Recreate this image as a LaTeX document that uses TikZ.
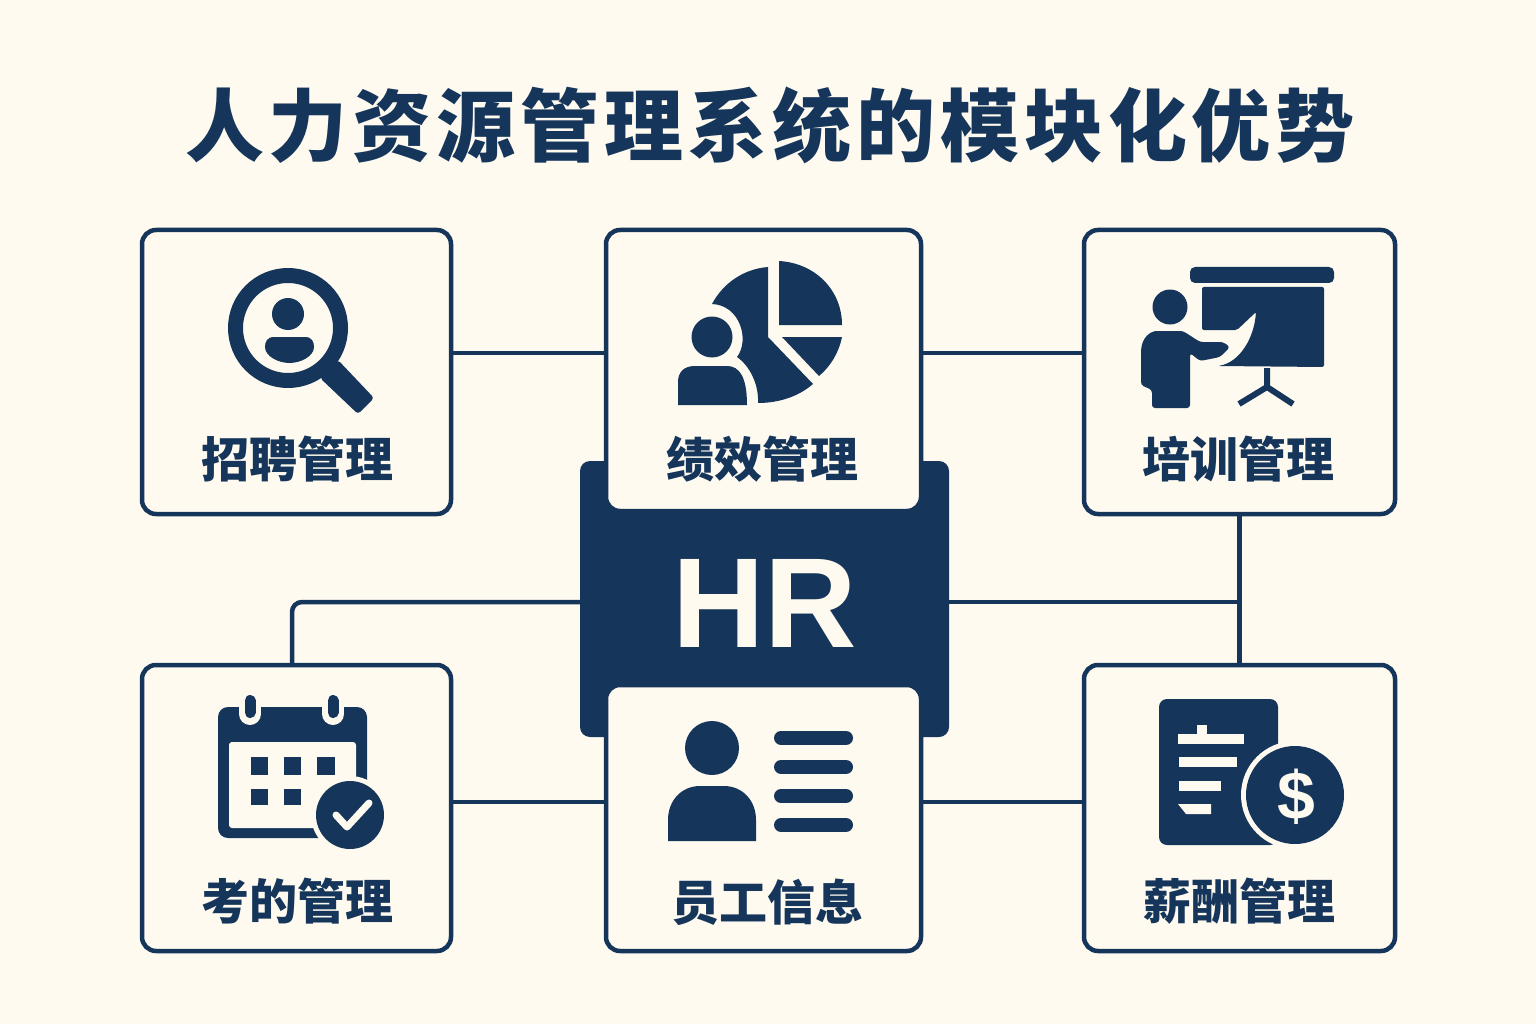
\documentclass[tikz,border=0pt]{standalone}
\usepackage{fontspec}
\setmainfont{Liberation Sans}
\newfontfamily\cjk{Noto Sans CJK SC}
\newfontfamily\cjkwide[LetterSpace=6.2]{Noto Sans CJK SC}
\usetikzlibrary{calc}
\definecolor{navy}{HTML}{15355A}
\definecolor{cream}{HTML}{FEFAF0}
\tikzset{
	cardbox/.style={draw=navy,line width=4.5pt,fill=cream,rounded corners=14pt,inner sep=0pt,outer sep=0pt},
	cardlabel/.style={text=navy,inner sep=0pt,font=\cjk\bfseries\fontsize{48}{52}\selectfont},
	link/.style={draw=navy,line width=4.5pt},
	glyph/.style={fill=navy},
	halo/.style={fill=cream},
	bar/.style={draw=navy,line width=14pt,line cap=round}
}

\begin{document}
\begin{tikzpicture}[x=1pt,y=-1pt]
		\fill[cream] (0,0) rectangle (1536,1024);
		\useasboundingbox (0,0) rectangle (1536,1024);
		\node[text=navy,font=\cjkwide\bfseries\fontsize{79}{84}\selectfont] (title) at (770,125) {人力资源管理系统的模块化优势};
		\node[fill=navy,rounded corners=10pt,minimum width=369pt,minimum height=276pt,inner sep=0pt,outer sep=0pt] (hub) at (764.5,599) {};
		\node[text=cream,inner sep=0pt,font=\bfseries\fontsize{128}{130}\selectfont] (hubname) at (765,603) {HR};
		\node[cardbox,minimum width=309pt,minimum height=284pt] (recruit) at (296.5,372) {};
		\node[cardbox,minimum width=315pt,minimum height=281pt] (perform) at (763.5,370.5) {};
		\node[cardbox,minimum width=311pt,minimum height=284pt] (training) at (1239.5,372) {};
		\node[cardbox,minimum width=309pt,minimum height=286pt] (attend) at (296.5,808) {};
		\node[cardbox,minimum width=315pt,minimum height=266pt] (staff) at (763.5,818) {};
		\node[cardbox,minimum width=311pt,minimum height=286pt] (salary) at (1239.5,808) {};

		\coordinate (hubleft) at ([yshift=-3pt]hub.west);
		\coordinate (hubright) at ([yshift=-3pt]hub.east);
		\coordinate (attendtop) at ([xshift=-4.5pt]attend.north);
		\draw[link] ([yshift=19pt]recruit.east) -- ([yshift=17.5pt]perform.west);
		\draw[link] ([yshift=17.5pt]perform.east) -- ([yshift=19pt]training.west);
		\draw[link,rounded corners=10pt] (hubleft) -| (attendtop);
		\draw[link] (hubright) -- (hubright -| training.south);
		\draw[link] (training.south) -- (salary.north);
		\draw[link] ([yshift=6pt]attend.east) -- ([yshift=16pt]staff.west);
		\draw[link] ([yshift=16pt]staff.east) -- ([yshift=6pt]salary.west);

		\draw[navy,line width=15pt] (288,328) circle[radius=52.5pt];
		\fill[glyph,rounded corners=3pt] (338,360) -- (374,398) -- (358,414) -- (320,378) -- cycle;
		\fill[glyph] (288,314) circle[radius=16pt];
		\fill[glyph] (274,337) -- (305,337) .. controls (312,337) and (314,342) .. (314,347) .. controls (314,356) and (301,363) .. (289.5,363) .. controls (278,363) and (265,356) .. (265,347) .. controls (265,342) and (267,337) .. (274,337) -- cycle;

		\fill[glyph] (779,261) .. controls (815,263) and (842,290) .. (842,325) -- (779,325) -- cycle;
		\fill[glyph] (782,337) -- (842,337) .. controls (839,352) and (831,366) .. (819,376) -- cycle;
		\fill[glyph] (768,267) -- (768,337) -- (813,384) .. controls (798,397) and (778,403) .. (758,403) .. controls (759,385) and (750,366) .. (737,357) .. controls (750,340) and (740,305) .. (712,304) .. controls (722,285) and (742,269) .. (768,267) -- cycle;
		\fill[glyph] (712,337) circle[radius=20.5pt];
		\fill[glyph] (678,405) -- (678,382) .. controls (678,372) and (684,366) .. (695,366) -- (727,366) .. controls (740,366) and (747,378) .. (747,405) -- cycle;

		\fill[glyph,rounded corners=5pt] (1190,267) rectangle (1334,283);
		\fill[glyph,rounded corners=2pt] (1202,287) -- (1324,287) -- (1324,367) -- (1218,366) .. controls (1240,362) and (1254,338) .. (1256,312) -- (1237,330) -- (1202,330) -- cycle;
		\fill[glyph] (1170,307) circle[radius=17.5pt];
		\fill[glyph,rounded corners=3pt] (1141,352) .. controls (1142,338) and (1150,331) .. (1160,331) -- (1183,331) -- (1200,342) -- (1223,342) -- (1230,347) -- (1220,357) -- (1200,361) -- (1190,353) -- (1190,408) -- (1152,408) -- (1152,390) -- (1141,385) -- cycle;
		\draw[navy,line width=6pt] (1267,368) -- (1267,387) -- (1239,404);
		\draw[navy,line width=6pt] (1267,387) -- (1293,404);

		\fill[glyph,rounded corners=10pt] (218,707) rectangle (367,838);
		\fill[halo,rounded corners=3pt] (229,742) rectangle (356,828);
		\draw[cream,line width=22pt,line cap=round] (250,700) -- (250,714);
		\draw[cream,line width=22pt,line cap=round] (333,700) -- (333,714);
		\draw[navy,line width=11pt,line cap=round] (250,700.5) -- (250,712.5);
		\draw[navy,line width=11pt,line cap=round] (333,700.5) -- (333,712.5);
		\fill[glyph] (251,757) rectangle (268,775);
		\fill[glyph] (284,757) rectangle (301,775);
		\fill[glyph] (317,757) rectangle (335,775);
		\fill[glyph] (251,789) rectangle (268,805);
		\fill[glyph] (284,789) rectangle (301,805);
		\fill[halo] (350,815) circle[radius=39pt];
		\fill[glyph] (350,815) circle[radius=34pt];
		\draw[cream,line width=7pt,line cap=round,line join=round] (336,815) -- (347,827) -- (369,803);

		\fill[glyph] (712,748) circle[radius=27pt];
		\fill[glyph] (668,841) -- (668,820) .. controls (668,800) and (682,786) .. (700,786) -- (724,786) .. controls (742,786) and (756,800) .. (756,820) -- (756,841) -- cycle;
		\draw[bar] (781,738) -- (846,738);
		\draw[bar] (781,767) -- (846,767);
		\draw[bar] (781,796) -- (846,796);
		\draw[bar] (781,825) -- (846,825);

		\fill[glyph,rounded corners=8pt] (1159,699) rectangle (1278,845);
		\fill[halo] (1178,734) rectangle (1244,744);
		\fill[halo] (1197,725) rectangle (1207,734);
		\fill[halo] (1179,757) rectangle (1237,767);
		\fill[halo] (1179,781) rectangle (1221,791);
		\fill[halo] (1178,804) -- (1211,804) -- (1211,814) -- (1186,814) -- cycle;
		\fill[halo] (1295,795) circle[radius=54pt];
		\fill[glyph] (1295,795) circle[radius=49pt];
		\node[text=cream,inner sep=0pt,font=\bfseries\fontsize{68}{70}\selectfont] (dollar) at (1296,797) {\$};

		\node[cardlabel] (recruitname) at (297.5,459) {招聘管理};
		\node[cardlabel] (performname) at (762.5,459) {绩效管理};
		\node[cardlabel] (trainingname) at (1238,459) {培训管理};
		\node[cardlabel] (attendname) at (297.5,901) {考的管理};
		\node[cardlabel] (staffname) at (767.5,902) {员工信息};
		\node[cardlabel] (salaryname) at (1239,901) {薪酬管理};
	\end{tikzpicture}
\end{document}
